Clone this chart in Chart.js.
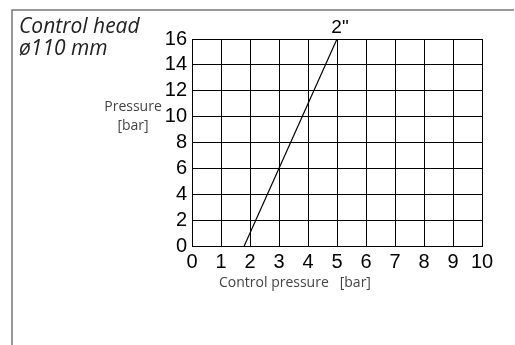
<!DOCTYPE html>
<html>
<head>
<meta charset="utf-8">
<script src="https://cdn.jsdelivr.net/npm/chart.js@4"></script>
<style>
  body { margin: 0; background: #fff; }
  #wrap { width: 515px; height: 345px; }
</style>
</head>
<body>
<div id="wrap"><canvas id="myChart" width="515" height="345"></canvas></div>
<script>
// data
const seriesName = ['2"'];
const controlPressure = [1.8, 5];   // x, bar
const pressure = [0, 16];           // y, bar
const xRange = [0, 10];
const yRange = [0, 16];
const titleLines = ['Control head', 'ø110 mm'];
const yTitleLines = ['Pressure', '[bar]'];
const xTitle = 'Control pressure   [bar]';

const points = controlPressure.map((x, i) => ({ x: x, y: pressure[i] }));

// frame, titles and series label
const decor = {
    id: 'decor',
    afterDraw(chart) {
        const c = chart.ctx;
        c.save();
        // outer frame (top + left only)
        c.strokeStyle = '#777';
        c.lineWidth = 1.5;
        c.beginPath();
        c.moveTo(12, 345);
        c.lineTo(12, 10);
        c.lineTo(514, 10);
        c.stroke();

        // chart title
        c.fillStyle = '#222';
        c.font = 'italic 21px "Open Sans"';
        c.textAlign = 'left';
        c.textBaseline = 'alphabetic';
        c.fillText(titleLines[0], 19, 33);
        c.fillText(titleLines[1], 19, 55);

        // y axis title
        c.fillStyle = '#444';
        c.font = '14px "Open Sans"';
        c.textAlign = 'center';
        c.textBaseline = 'middle';
        c.fillText(yTitleLines[0], 133, 107);
        c.fillText(yTitleLines[1], 133, 126);

        // x axis title
        c.textAlign = 'left';
        c.fillText(xTitle, 219, 283);

        // series label at the end of the line
        const meta = chart.getDatasetMeta(0);
        const last = meta.data[meta.data.length - 1];
        c.fillStyle = '#000';
        c.font = '19px "Liberation Sans"';
        c.textAlign = 'center';
        c.textBaseline = 'alphabetic';
        c.fillText(seriesName[0], last.x + 3, last.y - 6);
        c.restore();
    }
};

const ctx = document.getElementById('myChart').getContext('2d');

const myChart = new Chart(ctx, {
    type: 'scatter',
    data: {
        datasets: [{
            label: seriesName[0],
            data: points,
            showLine: true,
            borderColor: '#000',
            borderWidth: 1.2,
            pointRadius: 0,
            fill: false
        }]
    },
    options: {
        responsive: false,
        animation: false,
        layout: {
            padding: { left: 152, top: 39, right: 33, bottom: 69 }
        },
        scales: {
            x: {
                type: 'linear',
                min: xRange[0],
                max: xRange[1],
                afterFit: function(scale) { scale.height = 30; },
                border: { display: true, color: '#000', width: 1 },
                grid: { color: '#000', lineWidth: 1, drawTicks: false },
                ticks: {
                    stepSize: 1,
                    autoSkip: false,
                    maxRotation: 0,
                    padding: 4,
                    color: '#000',
                    font: { family: 'Liberation Sans', size: 20 }
                }
            },
            y: {
                type: 'linear',
                min: yRange[0],
                max: yRange[1],
                afterFit: function(scale) { scale.width = 40; },
                border: { display: true, color: '#000', width: 1 },
                grid: { color: '#000', lineWidth: 1, drawTicks: false },
                ticks: {
                    stepSize: 2,
                    autoSkip: false,
                    padding: 5,
                    color: '#000',
                    font: { family: 'Liberation Sans', size: 20 }
                }
            }
        },
        plugins: {
            legend: { display: false },
            tooltip: { enabled: false }
        }
    },
    plugins: [decor]
});
</script>
</body>
</html>
